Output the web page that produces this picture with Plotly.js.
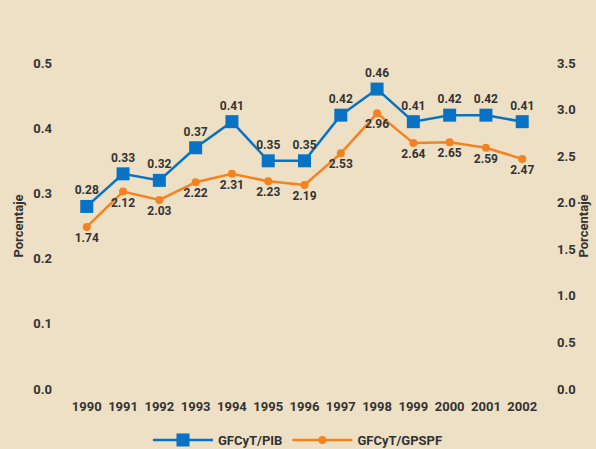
<!DOCTYPE html>
<html>
<head>
<meta charset="utf-8">
<script src="https://cdn.plot.ly/plotly-3.0.1.min.js"></script>
<style>
html,body{margin:0;padding:0;background:#EEE0C5;}
#chart{width:596px;height:449px;}
</style>
</head>
<body>
<div id="chart"></div>
<script>
const years = ["1990","1991","1992","1993","1994","1995","1996","1997","1998","1999","2000","2001","2002"];
const gfcytPib = [0.28,0.33,0.32,0.37,0.41,0.35,0.35,0.42,0.46,0.41,0.42,0.42,0.41];
const gfcytGpspf = [1.74,2.12,2.03,2.22,2.31,2.23,2.19,2.53,2.96,2.64,2.65,2.59,2.47];
const leftTicks = [0,0.1,0.2,0.3,0.4,0.5];
const rightTicks = [0,0.5,1,1.5,2,2.5,3,3.5];

const FONT = "Roboto, 'Liberation Sans', sans-serif";
const TXT = "#333333";

const traces = [
  {
    x: years, y: gfcytPib, name: "GFCyT/PIB", type: "scatter", mode: "lines+markers+text",
    line: {color: "#0873C4", width: 2.5},
    marker: {symbol: "square", size: 13, color: "#0873C4"},
    text: gfcytPib.map(v => v.toFixed(2)), textposition: "top center",
    textfont: {family: FONT, size: 12, color: TXT, weight: "bold"},
    cliponaxis: false
  },
  {
    x: years, y: gfcytGpspf, name: "GFCyT/GPSPF", type: "scatter", mode: "lines+markers+text",
    yaxis: "y2",
    line: {color: "#F58220", width: 2.5},
    marker: {symbol: "circle", size: 8, color: "#F58220"},
    text: gfcytGpspf.map(v => v.toFixed(2)), textposition: "bottom center",
    textfont: {family: FONT, size: 12, color: TXT, weight: "bold"},
    cliponaxis: false
  }
];

const layout = {
  width: 596, height: 449,
  paper_bgcolor: "#EEE0C5", plot_bgcolor: "#EEE0C5",
  margin: {l: 65, r: 52, t: 63, b: 60, autoexpand: false},
  font: {family: FONT, color: TXT, size: 13},
  showlegend: true,
  legend: {orientation: "h", x: 0.5, xanchor: "center", xref: "container",
           y: 0.02, yanchor: "middle", yref: "container",
           font: {family: FONT, size: 13, color: TXT, weight: "bold"}, bgcolor: "rgba(0,0,0,0)",
           itemwidth: 60, tracegroupgap: 0},
  xaxis: {type: "category", range: [-0.6, 12.6], showgrid: false, zeroline: false, showline: false,
          ticks: "", ticklabelstandoff: 8,
          tickfont: {family: FONT, size: 13, color: TXT, weight: "bold"}, fixedrange: true},
  yaxis: {range: [0, 0.5], tickvals: leftTicks, ticktext: leftTicks.map(v => v.toFixed(1)),
          showgrid: false, zeroline: false, showline: false, ticks: "", ticklabelstandoff: 12,
          tickfont: {family: FONT, size: 13, color: TXT, weight: "bold"},
          title: {text: "Porcentaje", font: {family: FONT, size: 13, color: TXT, weight: "bold"}, standoff: 6}},
  yaxis2: {range: [0, 3.5], overlaying: "y", side: "right", tickvals: rightTicks,
           ticktext: rightTicks.map(v => v.toFixed(1)),
           showgrid: false, zeroline: false, showline: false, ticks: "", ticklabelstandoff: 12,
           tickfont: {family: FONT, size: 13, color: TXT, weight: "bold"},
           title: {text: "Porcentaje", font: {family: FONT, size: 13, color: TXT, weight: "bold"}, standoff: 3}}
};

Plotly.newPlot("chart", traces, layout, {displayModeBar: false, staticPlot: true});
</script>
</body>
</html>
